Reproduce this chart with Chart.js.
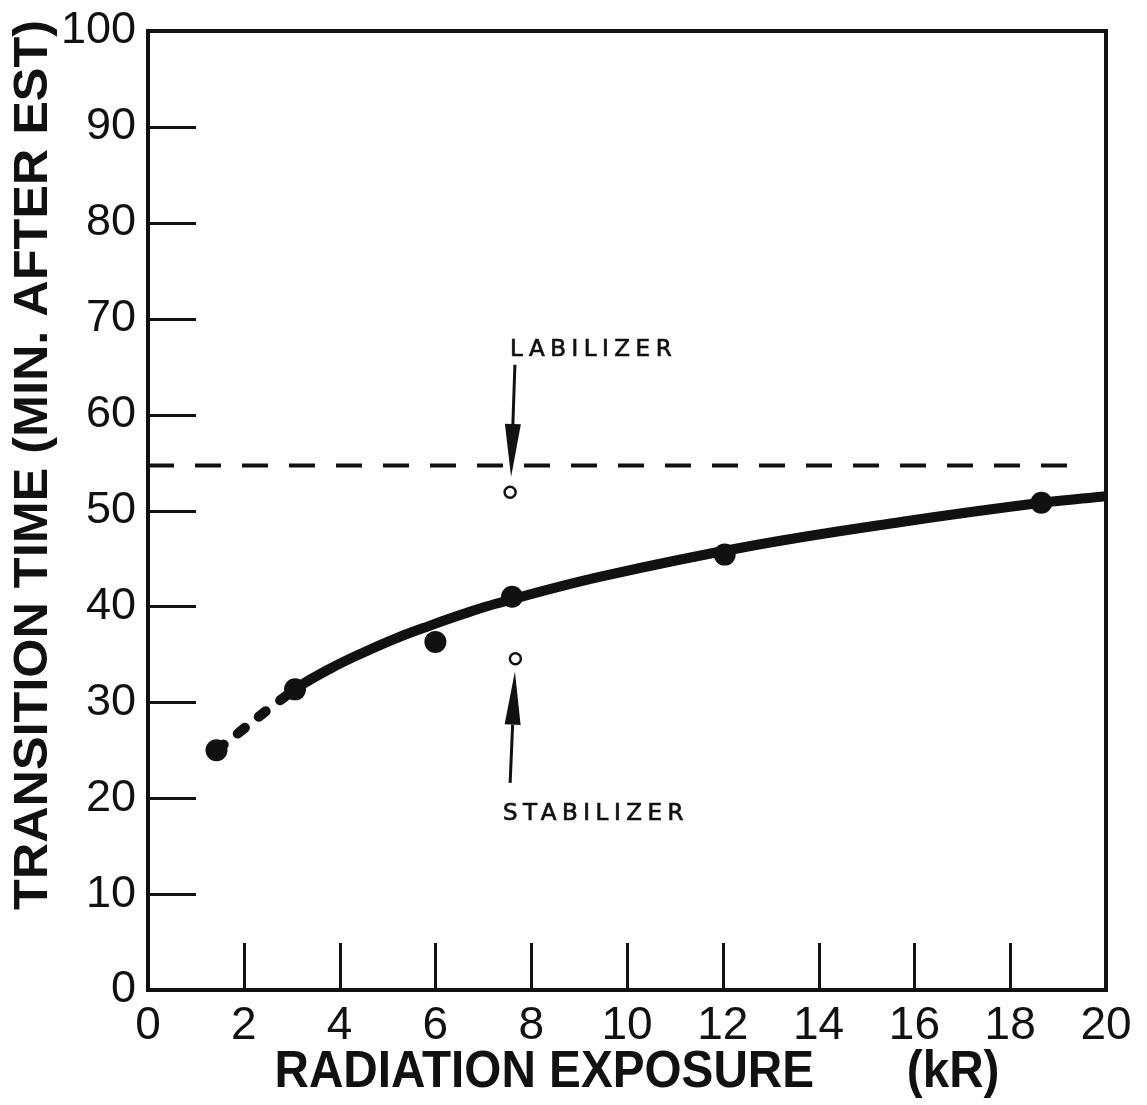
<!DOCTYPE html>
<html>
<head>
<meta charset="utf-8">
<script src="https://cdn.jsdelivr.net/npm/chart.js@4.4.1/dist/chart.umd.min.js"></script>
<style>
  html, body { margin: 0; padding: 0; background: #fff; }
  canvas { display: block; }
</style>
</head>
<body>
<canvas id="chart" width="1147" height="1105"></canvas>
<script>
// Measured transition times (filled circles)
const exposureMeasured   = [1.43, 3.07, 6.0, 7.6, 12.04, 18.65];
const transitionMeasured = [25.0, 31.35, 36.3, 41.0, 45.4, 50.8];

// Smooth curve drawn through the measurements (first segment dashed)
const curveExposure   = [1.43, 3.07, 3.80, 4.50, 5.19, 5.89, 6.58, 7.28, 9.45, 12.58, 15.72, 18.65, 20];
const curveTransition = [25.0, 31.35, 33.5, 35.2, 36.7, 38.0, 39.2, 40.3, 43.1, 46.3, 48.8, 50.8, 51.5];

// Single treated samples (open circles)
const treatedExposure   = [7.56, 7.67];
const treatedTransition = [51.9, 34.55];

// Labilizer reference level (dashed horizontal)
const labilizerExposure = [0, 19.56];
const labilizerLevel    = [54.7, 54.7];

// Axis ticks
const xTickValues = [0, 2, 4, 6, 8, 10, 12, 14, 16, 18, 20];
const xTickLabels = ['0', '2', '4', '6', '8', '10', '12', '14', '16', '18', '20'];
const yTickValues = [0, 10, 20, 30, 40, 50, 60, 70, 80, 90, 100];
const yTickLabels = ['0', '10', '20', '30', '40', '50', '60', '70', '80', '90', '100'];

// Titles and annotation words
const xTitle = 'RADIATION EXPOSURE       (kR)';
const yTitle = 'TRANSITION TIME (MIN. AFTER EST)';
const annotationLabels = ['LABILIZER', 'STABILIZER'];

// Annotation geometry in data units: [tail, tip] of each arrow, and text anchors
const annotationArrows = [
  [[7.66, 65.2], [7.58, 53.5]],
  [[7.56, 21.6], [7.66, 33.2]]
];
const annotationAnchors = [[7.56, 66.1], [7.41, 17.7]];

const toPoints = (xs, ys) => xs.map((x, i) => ({ x: x, y: ys[i] }));

const INK = '#111';

// Frame, inward tick marks, titles and arrows
const decorations = {
  id: 'decorations',
  beforeDatasetsDraw(chart) {
    const { ctx, chartArea: a, scales: { x, y } } = chart;
    ctx.save();
    ctx.strokeStyle = INK;
    ctx.lineCap = 'butt';
    ctx.lineWidth = 3;
    yTickValues.filter(v => v > y.min && v < y.max).forEach(v => {
      const py = Math.round(y.getPixelForValue(v)) + 0.5;
      ctx.beginPath();
      ctx.moveTo(a.left, py);
      ctx.lineTo(a.left + 48, py);
      ctx.stroke();
    });
    xTickValues.filter(v => v > x.min && v < x.max).forEach(v => {
      const px = Math.round(x.getPixelForValue(v)) + 0.5;
      ctx.beginPath();
      ctx.moveTo(px, a.bottom);
      ctx.lineTo(px, a.bottom - 47);
      ctx.stroke();
    });
    ctx.lineWidth = 4;
    ctx.strokeRect(a.left, a.top, a.right - a.left, a.bottom - a.top);
    ctx.restore();
  },
  afterDraw(chart) {
    const { ctx, scales: { x, y } } = chart;
    ctx.save();
    ctx.fillStyle = INK;
    ctx.strokeStyle = INK;

    // arrows
    annotationArrows.forEach(([tail, tip]) => {
      const tx = x.getPixelForValue(tail[0]), ty = y.getPixelForValue(tail[1]);
      const hx = x.getPixelForValue(tip[0]),  hy = y.getPixelForValue(tip[1]);
      const ang = Math.atan2(hy - ty, hx - tx);
      const headLen = 53, headHalf = 8;
      const bx = hx - headLen * Math.cos(ang), by = hy - headLen * Math.sin(ang);
      ctx.lineWidth = 3;
      ctx.beginPath();
      ctx.moveTo(tx, ty);
      ctx.lineTo(bx, by);
      ctx.stroke();
      ctx.beginPath();
      ctx.moveTo(hx, hy);
      ctx.lineTo(bx + headHalf * Math.sin(ang), by - headHalf * Math.cos(ang));
      ctx.lineTo(bx - headHalf * Math.sin(ang), by + headHalf * Math.cos(ang));
      ctx.closePath();
      ctx.fill();
    });

    // annotation words
    ctx.font = '23px "DejaVu Sans", sans-serif';
    ctx.letterSpacing = '5.5px';
    ctx.textAlign = 'left';
    ctx.textBaseline = 'alphabetic';
    ctx.lineWidth = 0.7;
    annotationLabels.forEach((t, i) => {
      const [ax, ay] = annotationAnchors[i];
      const px = x.getPixelForValue(ax), py = y.getPixelForValue(ay);
      ctx.fillText(t, px, py);
      ctx.strokeText(t, px, py);
    });
    ctx.letterSpacing = '0px';

    // axis titles (narrow hand-lettered look)
    ctx.textAlign = 'center';
    ctx.textBaseline = 'middle';

    ctx.font = 'bold 52px "Liberation Sans", Arial, sans-serif';
    let w = ctx.measureText(xTitle).width;
    ctx.save();
    ctx.translate(637, 1073);
    ctx.scale(725 / w, 1);
    ctx.fillText(xTitle, 0, 0);
    ctx.restore();

    ctx.font = 'bold 48px "Liberation Sans", Arial, sans-serif';
    w = ctx.measureText(yTitle).width;
    ctx.save();
    ctx.translate(34, 465);
    ctx.rotate(-Math.PI / 2);
    ctx.scale(890 / w, 1);
    ctx.fillText(yTitle, 0, 0);
    ctx.restore();

    ctx.restore();
  }
};

const chart = new Chart(document.getElementById('chart'), {
  type: 'scatter',
  data: {
    datasets: [
      {
        label: 'Labilizer level',
        data: toPoints(labilizerExposure, labilizerLevel),
        showLine: true,
        borderColor: INK,
        borderWidth: 4,
        borderDash: [26, 21],
        pointRadius: 0,
        order: 4
      },
      {
        label: 'Fitted curve',
        data: toPoints(curveExposure, curveTransition),
        showLine: true,
        borderColor: INK,
        borderWidth: 10,
        borderCapStyle: 'round',
        tension: 0.4,
        pointRadius: 0,
        segment: {
          borderDash: c => (c.p0DataIndex === 0 ? [9, 18] : undefined)
        },
        order: 3
      },
      {
        label: 'Measured',
        data: toPoints(exposureMeasured, transitionMeasured),
        showLine: false,
        pointRadius: 11,
        pointBackgroundColor: INK,
        pointBorderColor: INK,
        pointBorderWidth: 0,
        order: 1
      },
      {
        label: 'Treated',
        data: toPoints(treatedExposure, treatedTransition),
        showLine: false,
        pointRadius: 5.5,
        pointBackgroundColor: '#fff',
        pointBorderColor: INK,
        pointBorderWidth: 2.5,
        order: 2
      }
    ]
  },
  options: {
    responsive: false,
    animation: false,
    events: [],
    layout: { padding: { left: 0, top: 31, right: 41, bottom: 0 } },
    plugins: { legend: { display: false }, tooltip: { enabled: false } },
    scales: {
      x: {
        type: 'linear',
        min: 0,
        max: 20,
        afterBuildTicks: s => { s.ticks = xTickValues.map(v => ({ value: v })); },
        afterFit: s => { s.height = 115; s.paddingLeft = 0; s.paddingRight = 0; },
        grid: { display: false, drawTicks: false },
        border: { display: false },
        ticks: {
          padding: 9,
          color: INK,
          font: { family: '"Liberation Sans", Arial, sans-serif', size: 46 },
          callback: v => xTickLabels[xTickValues.indexOf(v)]
        }
      },
      y: {
        type: 'linear',
        min: 0,
        max: 100,
        afterBuildTicks: s => { s.ticks = yTickValues.map(v => ({ value: v })); },
        afterFit: s => { s.width = 148; s.paddingTop = 0; s.paddingBottom = 0; },
        grid: { display: false, drawTicks: false },
        border: { display: false },
        ticks: {
          padding: 12,
          color: INK,
          font: { family: '"Liberation Sans", Arial, sans-serif', size: 45 },
          callback: v => yTickLabels[yTickValues.indexOf(v)]
        }
      }
    }
  },
  plugins: [decorations]
});
</script>
</body>
</html>
